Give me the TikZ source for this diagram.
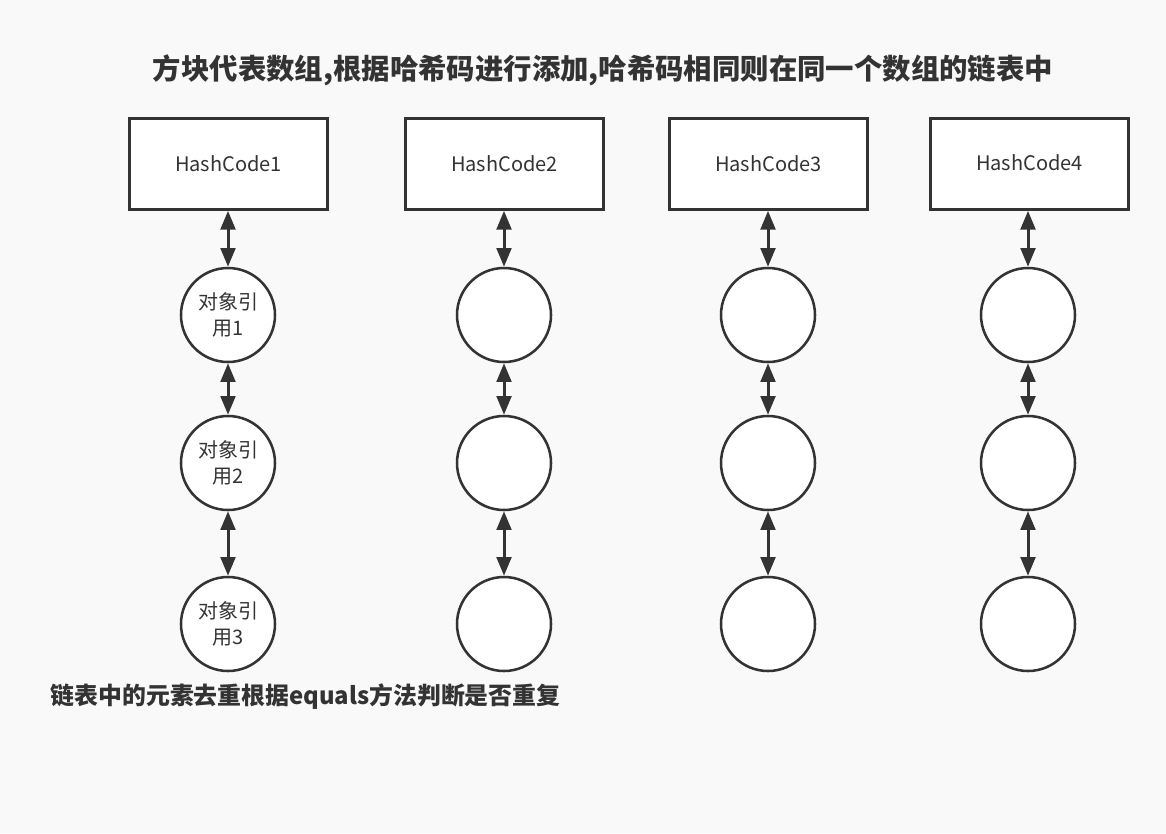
\documentclass[tikz,border=0pt]{standalone}
\usepackage{fontspec}
\setmainfont{Noto Sans CJK SC}
\usetikzlibrary{arrows.meta}
\definecolor{bg}{RGB}{249,249,249}
\definecolor{ink}{RGB}{51,51,51}
\begin{document}
\begin{tikzpicture}[x=0.75pt,y=-0.75pt,
  hbox/.style={draw=ink,line width=2.25pt,fill=white,minimum width=148.5pt,minimum height=68pt,inner sep=0pt,font=\fontsize{15pt}{18pt}\selectfont,text=ink},
  ref/.style={draw=ink,line width=1.9pt,fill=white,circle,minimum size=70.5pt,inner sep=0pt,align=center,font=\fontsize{15pt}{19.5pt}\selectfont,text=ink},
  link/.style={draw=ink,line width=2.25pt,{Triangle[length=14pt,width=11pt]}-{Triangle[length=14pt,width=11pt]}}]
\fill[bg] (0,0) rectangle (1166,833);
\useasboundingbox (0,0) rectangle (1166,833);
\node[font=\bfseries\fontsize{21.3pt}{26pt}\selectfont,text=ink] (title) at (603,70) {方块代表数组,根据哈希码进行添加,哈希码相同则在同一个数组的链表中};
\node[font=\bfseries\fontsize{17.9pt}{22pt}\selectfont,text=ink,anchor=west] (note) at (46,697) {链表中的元素去重根据equals方法判断是否重复};
% column 1
\node[hbox] (h1) at (228.5,164) {\raisebox{-1.5pt}{HashCode1}};
\node[ref] (a1) at (228,315) {对象引\\用1};
\node[ref] (a2) at (228,463) {对象引\\用2};
\node[ref] (a3) at (228,624) {对象引\\用3};
% column 2
\node[hbox] (h2) at (504.5,164) {\raisebox{-1.5pt}{HashCode2}};
\node[ref] (b1) at (504,315) {};
\node[ref] (b2) at (504,463) {};
\node[ref] (b3) at (504,624) {};
% column 3
\node[hbox] (h3) at (768.5,164) {\raisebox{-1.5pt}{HashCode3}};
\node[ref] (c1) at (768,315) {};
\node[ref] (c2) at (768,463) {};
\node[ref] (c3) at (768,624) {};
% column 4
\node[hbox] (h4) at (1029.5,164) {\raisebox{2.25pt}{HashCode4}};
\node[ref] (d1) at (1028,315) {};
\node[ref] (d2) at (1028,463) {};
\node[ref] (d3) at (1028,624) {};
\draw[link] (h1.south -| a1) -- (a1); \draw[link] (a1) -- (a2); \draw[link] (a2) -- (a3);
\draw[link] (h2.south -| b1) -- (b1); \draw[link] (b1) -- (b2); \draw[link] (b2) -- (b3);
\draw[link] (h3.south -| c1) -- (c1); \draw[link] (c1) -- (c2); \draw[link] (c2) -- (c3);
\draw[link] (h4.south -| d1) -- (d1); \draw[link] (d1) -- (d2); \draw[link] (d2) -- (d3);
\end{tikzpicture}
\end{document}
